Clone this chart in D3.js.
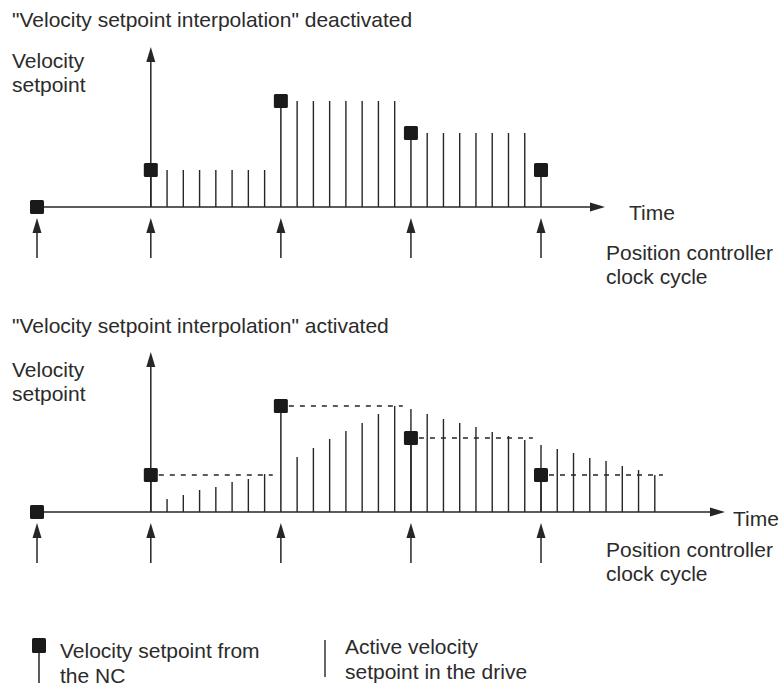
<!DOCTYPE html>
<html>
<head>
<meta charset="utf-8">
<script src="https://cdn.jsdelivr.net/npm/d3@7/dist/d3.min.js"></script>
<style>
  body { margin: 0; background: #fff; }
  text { font-family: "Liberation Sans", Arial, sans-serif; font-size: 21px; fill: #2b2b2b; }
</style>
</head>
<body>
<svg id="chart" width="781" height="686"></svg>
<script>
// clock cycles of the position controller, in interpolation steps
var clockSteps = [-7, 0, 8, 16, 24];
// velocity setpoint sent by the NC at every clock cycle
var ncSetpoint = [0, 37, 106, 74, 37];

// "deactivated": drive holds the last setpoint
var holdSteps  = [1, 2, 3, 4, 5, 6, 7, 9, 10, 11, 12, 13, 14, 15, 17, 18, 19, 20, 21, 22, 23];
var holdValues = [37, 37, 37, 37, 37, 37, 37, 106, 106, 106, 106, 106, 106, 106, 74, 74, 74, 74, 74, 74, 74];

// "activated": drive interpolates between setpoints
var interpSteps  = [1, 2, 3, 4, 5, 6, 7, 9, 10, 11, 12, 13, 14, 15, 16, 17, 18, 19, 20, 21, 22, 23, 24, 25, 26, 27, 28, 29, 30, 31];
var interpValues = [13, 17, 22, 25, 30, 33, 38, 55, 64, 73, 81, 89, 98, 106, 103, 98, 93, 89, 85, 80, 76, 72, 67, 63, 59, 54, 51, 46, 42, 37];

var titles = ['"Velocity setpoint interpolation" deactivated', '"Velocity setpoint interpolation" activated'];
var yLabel = ["Velocity", "setpoint"];
var clockLabel = ["Position controller", "clock cycle"];
var legendLabels = [["Velocity setpoint from", "the NC"], ["Active velocity", "setpoint in the drive"]];

var ink = "#262626";
var svg = d3.select("#chart");

var x = d3.scaleLinear().domain([-7, 24]).range([37, 541]);

function arrow(g, x1, y1, x2, y2) {
  var len = 15, half = 4.5;
  var dx = x2 - x1, dy = y2 - y1, d = Math.sqrt(dx * dx + dy * dy);
  var ux = dx / d, uy = dy / d;
  var bx = x2 - ux * len, by = y2 - uy * len;
  g.append("line").attr("x1", x1).attr("y1", y1).attr("x2", bx).attr("y2", by)
    .attr("stroke", ink).attr("stroke-width", 1.5);
  g.append("path")
    .attr("d", "M" + x2 + "," + y2 + "L" + (bx - uy * half) + "," + (by + ux * half) +
      "L" + (bx + uy * half) + "," + (by - ux * half) + "Z")
    .attr("fill", ink);
}

function panel(cfg) {
  var g = svg.append("g");
  var y = d3.scaleLinear().domain([0, 160]).range([cfg.base, cfg.base - 160]);

  g.append("text").attr("x", 12).attr("y", cfg.titleY).text(cfg.title);
  g.selectAll(".ylab").data(yLabel).enter().append("text")
    .attr("x", 12).attr("y", function (d, i) { return cfg.labelY + i * 24; }).text(function (d) { return d; });

  // drive setpoint lines
  g.selectAll(".drive").data(cfg.steps).enter().append("line")
    .attr("x1", function (d) { return x(d); }).attr("x2", function (d) { return x(d); })
    .attr("y1", y(0)).attr("y2", function (d, i) { return y(cfg.values[i]); })
    .attr("stroke", ink).attr("stroke-width", 1.4);

  // NC setpoint stems
  g.selectAll(".stem").data(clockSteps).enter().append("line")
    .attr("x1", function (d) { return x(d); }).attr("x2", function (d) { return x(d); })
    .attr("y1", y(0)).attr("y2", function (d, i) { return y(ncSetpoint[i]); })
    .attr("stroke", ink).attr("stroke-width", 1.5);

  if (cfg.dashed) {
    g.selectAll(".dash").data(clockSteps.slice(1)).enter().append("line")
      .attr("x1", function (d) { return x(d) + 8; }).attr("x2", function (d) { return x(d + 7.5); })
      .attr("y1", function (d, i) { return y(ncSetpoint[i + 1]); })
      .attr("y2", function (d, i) { return y(ncSetpoint[i + 1]); })
      .attr("stroke", ink).attr("stroke-width", 1.3).attr("stroke-dasharray", "5,6");
  }

  // axes
  arrow(g, x(-7), y(0), cfg.timeEnd, y(0));
  arrow(g, x(0), y(0), x(0), y(160));
  g.append("text").attr("x", cfg.timeX).attr("y", cfg.timeY).text("Time");

  // clock cycle markers
  clockSteps.forEach(function (s) {
    arrow(g, x(s), cfg.base + 51, x(s), cfg.base + 11);
  });
  g.selectAll(".clab").data(clockLabel).enter().append("text")
    .attr("x", 606).attr("y", function (d, i) { return cfg.clockY + i * 24; }).text(function (d) { return d; });

  // NC squares
  g.selectAll(".sq").data(clockSteps).enter().append("rect")
    .attr("x", function (d) { return x(d) - 7; })
    .attr("y", function (d, i) { return y(ncSetpoint[i]) - 7; })
    .attr("width", 14).attr("height", 14).attr("rx", 1.5)
    .attr("fill", "#1a1a1a");
}

panel({ base: 207, title: titles[0], titleY: 27, labelY: 68, steps: holdSteps, values: holdValues,
        dashed: false, timeEnd: 605, timeX: 629, timeY: 220, clockY: 260 });
panel({ base: 512, title: titles[1], titleY: 333, labelY: 377, steps: interpSteps, values: interpValues,
        dashed: true, timeEnd: 725, timeX: 733, timeY: 526, clockY: 557 });

// legend
var lg = svg.append("g");
lg.append("line").attr("x1", 39).attr("x2", 39).attr("y1", 645).attr("y2", 683).attr("stroke", ink).attr("stroke-width", 1.5);
lg.append("rect").attr("x", 32).attr("y", 638).attr("width", 14).attr("height", 15).attr("rx", 1.5).attr("fill", "#1a1a1a");
lg.append("line").attr("x1", 325).attr("x2", 325).attr("y1", 640).attr("y2", 677).attr("stroke", ink).attr("stroke-width", 1.4);
legendLabels.forEach(function (lines, k) {
  lg.selectAll(".lt" + k).data(lines).enter().append("text")
    .attr("x", k === 0 ? 60 : 345)
    .attr("y", function (d, i) { return (k === 0 ? 658 : 654) + i * 25; })
    .text(function (d) { return d; });
});
</script>
</body>
</html>
